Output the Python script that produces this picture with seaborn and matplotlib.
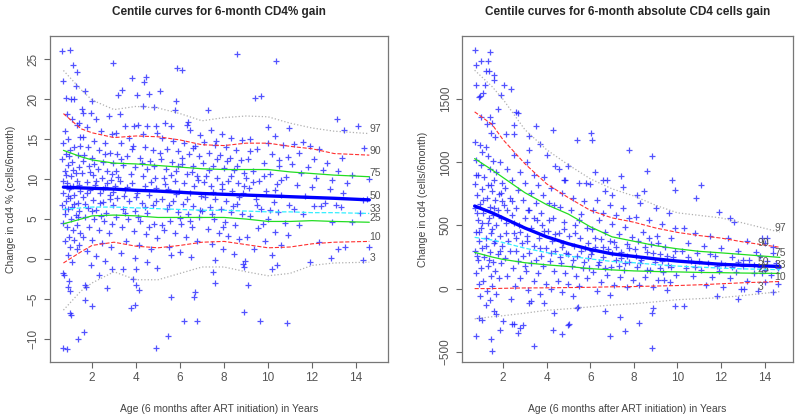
import numpy as np
import matplotlib
matplotlib.use("Agg")
import matplotlib.pyplot as plt
import seaborn as sns

# scatter points: (age in years, 6-month gain)
left_points = [
    (0.65, 26.0), (1.0, 26.2), (1.12, 24.3), (1.3, 23.4), (0.7, 22.3), (1.25, 21.6), (1.2, 20.0), (0.8, 20.1),
    (1.05, 20.0), (0.85, 18.2), (1.4, 17.0), (1.1, 17.5), (0.75, 16.0), (1.3, 16.8), (0.9, 15.0), (1.45, 15.3),
    (0.7, 14.5), (1.2, 14.0), (1.0, 13.6), (0.8, 13.2), (1.35, 13.0), (0.65, 12.5), (1.1, 12.2), (0.9, 11.8),
    (1.4, 11.5), (0.75, 11.0), (1.25, 10.8), (1.05, 10.4), (0.7, 9.8), (1.3, 9.8), (0.85, 9.5), (1.15, 9.2),
    (0.95, 8.8), (1.45, 8.5), (0.7, 8.2), (1.2, 8.0), (1.0, 7.6), (0.8, 7.2), (1.35, 7.0), (0.65, 6.8),
    (1.1, 6.5), (0.9, 6.2), (1.4, 6.0), (0.75, 5.6), (1.25, 5.5), (1.05, 5.0), (0.7, 4.5), (1.3, 4.3),
    (0.85, 4.0), (1.15, 3.6), (1.45, 3.2), (0.95, 2.8), (1.2, 2.4), (0.75, 2.2), (1.4, 1.8), (1.0, 1.5),
    (1.3, 1.2), (0.9, 0.5), (1.1, -0.4), (0.7, -1.7), (0.72, -2.0), (0.95, -2.8), (0.92, -3.5), (1.0, -4.0),
    (1.0, -6.7), (1.05, -7.0), (0.68, -11.1), (0.88, -11.3), (1.35, -10.0),
    (0.8, 10.5), (1.15, 11.2), (1.4, 9.3), (0.9, 7.9), (1.2, 6.9), (0.75, 6.2), (1.35, 5.2), (1.0, 9.0),
    (0.95, 12.9), (1.45, 14.2),
    (1.55, 18.8), (1.7, 21.0), (1.98, 19.8), (1.6, 18.3), (1.95, 18.3), (2.2, 17.5), (2.75, 17.9), (1.75, 16.5),
    (2.4, 16.0), (2.9, 15.6), (1.6, 15.3), (2.1, 14.8), (2.6, 14.5), (1.8, 14.0), (2.3, 13.6), (2.8, 13.3),
    (1.65, 13.0), (2.0, 12.6), (2.5, 12.2), (2.95, 12.0), (1.85, 11.6), (2.25, 11.3), (2.7, 11.0), (1.55, 10.8),
    (2.05, 10.5), (2.45, 10.2), (2.85, 9.9), (1.75, 9.6), (2.15, 9.3), (2.6, 9.0), (1.9, 8.6), (2.35, 8.3),
    (2.8, 8.0), (1.6, 7.7), (2.05, 7.4), (2.5, 7.1), (2.95, 6.8), (1.8, 6.4), (2.2, 6.1), (2.65, 5.8),
    (1.7, 5.3), (2.1, 5.0), (2.55, 4.7), (2.9, 4.4), (1.85, 4.0), (2.3, 3.6), (2.75, 3.2), (1.6, 2.8),
    (2.0, 2.4), (2.45, 2.0), (2.85, 1.5), (1.75, 1.0), (2.2, 0.4), (2.6, -0.2), (1.95, -0.8), (2.3, -2.0),
    (2.7, -3.6), (1.7, -3.3), (1.72, -3.5), (1.98, -5.9), (1.65, -9.1), (1.7, -5.1), (2.9, -1.3),
    (1.6, 12.3), (1.9, 10.9), (2.2, 9.8), (2.5, 8.7), (2.8, 7.5), (1.7, 6.9), (2.0, 6.0), (2.4, 5.4),
    (2.7, 9.5), (2.9, 10.6), (2.1, 11.9), (2.6, 13.2), (1.75, 8.2), (2.35, 7.0), (2.95, 8.4),
    (2.94, 24.5), (3.8, 22.7), (4.45, 22.8), (4.38, 22.1), (3.35, 21.2), (4.6, 20.6), (4.05, 20.5), (5.1, 21.0),
    (3.2, 20.5), (4.3, 19.1), (4.8, 19.0), (3.25, 18.1), (3.5, 16.7), (3.9, 16.7), (4.1, 16.8), (4.5, 16.6),
    (4.9, 16.7), (3.1, 15.8), (3.7, 15.2), (4.3, 15.6), (4.95, 15.8), (3.3, 14.5), (3.85, 14.2), (4.4, 14.0),
    (4.75, 13.7), (3.15, 13.2), (3.6, 12.9), (4.2, 12.6), (4.65, 12.3), (3.4, 11.8), (3.95, 11.5), (4.5, 11.3),
    (3.1, 11.0), (3.75, 10.7), (4.3, 10.4), (4.85, 10.1), (3.25, 9.8), (3.8, 9.5), (4.4, 9.2), (4.9, 8.9),
    (3.5, 8.6), (4.05, 8.3), (4.6, 8.0), (3.15, 7.6), (3.7, 7.3), (4.25, 7.0), (4.75, 6.7), (3.4, 6.3),
    (3.95, 6.0), (4.5, 5.7), (3.1, 5.3), (3.65, 5.0), (4.2, 4.7), (4.8, 4.4), (3.35, 4.0), (3.9, 3.5),
    (4.45, 3.1), (4.95, 2.6), (3.55, 2.2), (4.15, 1.7), (4.7, 1.2), (3.3, 0.7), (3.95, 0.1), (4.5, -0.4),
    (3.4, -1.2), (4.0, -1.2), (3.85, -2.5), (4.0, -3.3), (4.15, -3.9), (3.78, -6.1), (3.95, -5.7), (4.95, -1.1),
    (4.9, -11.2),
    (3.2, 10.3), (3.6, 9.0), (4.0, 7.8), (4.4, 6.5), (4.8, 11.7), (3.3, 12.5), (3.8, 13.8), (4.25, 12.0),
    (4.7, 9.7), (3.5, 5.8), (4.1, 5.3), (4.6, 4.0), (3.45, 7.9), (4.9, 7.3), (3.05, 9.2),
    (5.85, 23.9), (6.08, 23.6), (5.82, 19.8), (5.77, 18.7), (6.38, 17.2), (6.3, 16.8), (6.45, 16.2), (5.3, 17.0),
    (5.6, 16.6), (6.9, 15.5), (5.2, 15.1), (5.7, 14.8), (6.2, 14.5), (6.7, 14.2), (5.4, 13.8), (5.9, 13.5),
    (6.4, 13.2), (6.85, 12.9), (5.15, 12.5), (5.65, 12.2), (6.1, 11.9), (6.6, 11.6), (5.35, 11.3), (5.8, 11.0),
    (6.3, 10.7), (6.75, 10.4), (5.25, 10.1), (5.75, 9.8), (6.2, 9.5), (6.65, 9.2), (5.45, 8.8), (5.95, 8.5),
    (6.45, 8.2), (6.95, 7.9), (5.2, 7.5), (5.7, 7.2), (6.15, 6.9), (6.6, 6.6), (5.4, 6.2), (5.9, 5.9),
    (6.35, 5.6), (6.85, 5.3), (5.55, 4.8), (6.05, 4.4), (6.55, 4.0), (5.25, 3.6), (5.75, 3.2), (6.25, 2.8),
    (6.75, 2.2), (5.5, 1.5), (6.0, 0.9), (6.5, 0.3), (5.6, 0.5), (5.45, -9.6), (6.2, -7.8), (6.75, -7.8),
    (5.58, -4.75), (6.7, -4.1), (6.65, -4.7),
    (5.3, 9.4), (5.8, 8.1), (6.3, 7.5), (6.8, 9.9), (5.6, 10.5), (6.1, 12.6), (6.6, 13.9), (5.1, 13.3),
    (5.5, 6.8), (6.0, 5.1), (6.45, 4.7), (6.9, 6.1), (5.2, 4.2), (5.9, 11.6), (6.55, 10.9),
    (8.6, 25.6), (7.26, 18.7), (7.4, 16.2), (7.9, 15.7), (8.3, 15.2), (8.8, 14.9), (7.1, 14.6), (7.6, 14.3),
    (8.1, 14.0), (8.55, 13.7), (7.3, 13.3), (7.8, 13.0), (8.25, 12.7), (8.75, 12.4), (7.05, 12.0), (7.5, 11.7),
    (8.0, 11.4), (8.45, 11.1), (8.9, 10.8), (7.2, 10.4), (7.7, 10.1), (8.2, 9.8), (8.65, 9.5), (7.4, 9.1),
    (7.9, 8.8), (8.35, 8.5), (8.85, 8.2), (7.15, 7.8), (7.6, 7.5), (8.1, 7.2), (8.6, 6.9), (7.35, 6.5),
    (7.85, 6.2), (8.3, 5.9), (8.8, 5.6), (7.55, 5.0), (8.05, 4.6), (8.5, 4.2), (7.25, 3.7), (7.75, 3.3),
    (8.2, 2.9), (8.7, 2.5), (7.45, 1.9), (7.95, 1.2), (8.45, 0.6), (7.6, -0.1), (8.85, -0.6), (8.9, -1.0),
    (7.52, -1.6), (7.6, -3.0), (8.9, -6.6), (8.95, -0.2),
    (7.1, 9.6), (7.5, 8.4), (7.9, 9.4), (8.3, 10.4), (8.7, 7.7), (7.3, 11.2), (7.7, 12.5), (8.15, 12.3),
    (8.6, 11.6), (7.0, 6.0), (7.45, 5.6), (7.95, 4.0), (8.4, 6.6), (8.9, 9.1), (7.65, 14.8),
    (10.36, 24.8), (9.4, 20.2), (9.7, 20.4), (10.0, 16.5), (10.3, 15.4), (9.2, 15.0), (10.0, 14.5), (10.7, 14.3),
    (9.5, 13.8), (10.2, 13.2), (10.9, 12.8), (9.1, 12.5), (9.8, 12.0), (10.5, 11.6), (9.3, 11.0), (10.1, 10.6),
    (10.8, 10.3), (9.6, 9.8), (10.4, 9.4), (9.15, 8.9), (9.9, 8.5), (10.6, 8.0), (9.45, 7.5), (10.25, 7.1),
    (10.95, 6.8), (9.7, 6.3), (10.45, 5.9), (9.2, 5.4), (10.0, 5.0), (10.75, 4.5), (9.55, 3.9), (10.3, 3.4),
    (9.05, 2.7), (9.85, 2.2), (10.6, 1.8), (9.35, 1.2), (10.2, 0.5), (9.1, -3.3), (9.65, -7.8), (10.4, -0.7),
    (10.2, -1.3), (10.85, -8.0),
    (9.3, 9.6), (9.8, 10.4), (10.3, 8.6), (9.5, 6.8), (10.1, 6.1), (9.0, 10.1), (10.6, 9.9), (9.75, 4.4),
    (10.5, 12.4), (9.2, 13.5),
    (10.97, 16.4), (13.15, 17.5), (14.1, 16.7), (13.47, 16.1), (14.36, 13.9), (13.35, 12.7), (11.2, 14.4), (11.6, 14.6),
    (11.9, 14.2), (12.3, 13.8), (11.4, 13.3), (12.1, 12.5), (12.7, 12.0), (11.1, 11.9), (11.8, 11.5), (12.5, 11.2),
    (13.2, 11.0), (13.8, 10.5), (14.6, 10.0), (11.5, 10.8), (12.2, 10.1), (12.9, 9.9), (13.6, 9.5), (11.3, 9.3),
    (12.0, 9.0), (12.8, 8.7), (13.4, 8.3), (14.5, 7.5), (14.3, 7.4), (11.7, 7.9), (12.6, 7.0), (13.1, 6.8),
    (11.2, 6.3), (12.1, 6.6), (12.4, 6.6), (13.3, 6.5), (14.2, 5.8), (11.6, 5.6), (12.9, 4.6), (13.8, 4.6),
    (11.4, 4.3), (12.3, 2.1), (13.2, 1.3), (13.5, 1.5), (14.6, 1.5), (11.9, -0.4), (12.85, 0.1), (14.3, -0.1),
    (10.9, 3.0),
]

right_points = [
    (0.72, 1892), (1.4, 1871), (0.76, 1773), (1.0, 1805), (1.3, 1805), (1.2, 1725), (1.38, 1725), (1.58, 1693),
    (1.6, 1653), (0.76, 1613), (1.17, 1613), (1.1, 1550), (0.9, 1520), (0.95, 1525), (1.9, 1535), (1.75, 1419),
    (1.0, 1360), (1.4, 1360), (1.25, 1300), (1.5, 1310), (0.7, 1160), (0.95, 1140), (1.2, 1120), (1.45, 1230),
    (1.65, 1200), (1.05, 1080), (1.3, 1050), (0.75, 1020), (1.55, 1010), (1.85, 1000), (1.0, 980), (1.4, 950),
    (1.7, 920), (0.85, 900), (1.15, 880), (1.6, 860), (1.95, 840), (0.7, 830), (1.3, 820), (1.05, 790),
    (1.5, 770), (1.8, 750), (0.8, 740), (1.25, 720), (1.65, 700), (1.95, 690), (0.95, 670), (1.4, 650),
    (0.7, 640), (1.75, 620), (1.1, 600), (1.55, 580), (1.9, 560), (0.85, 540), (1.3, 520), (1.7, 500),
    (1.0, 480), (0.75, 450), (1.45, 440), (1.85, 420), (1.2, 400), (0.9, 380), (1.6, 360), (1.95, 340),
    (1.05, 320), (0.7, 300), (1.4, 290), (1.75, 270), (1.15, 250), (0.85, 230), (1.55, 210), (1.9, 200),
    (1.3, 180), (1.0, 160), (1.65, 140), (0.75, 120), (1.45, 100), (1.8, 80), (1.1, 60), (0.9, 40),
    (1.5, 20), (1.25, -20), (1.7, -40), (0.95, -60), (1.4, -90), (1.2, -130), (1.6, -180), (0.76, -375),
    (1.45, -401), (1.5, -492), (0.9, -232), (1.05, -248), (1.7, -200), (1.85, -327),
    (0.8, 600), (1.1, 700), (1.35, 560), (0.9, 450), (1.2, 340), (1.5, 470), (1.65, 380), (0.8, 260),
    (1.35, 230), (1.85, 300), (1.05, 520), (1.6, 640), (0.75, 900), (1.45, 820), (1.9, 760),
    (2.05, 1613), (2.35, 1580), (2.6, 1400), (2.7, 1390), (2.5, 1293), (3.5, 1290), (2.13, 1228), (2.5, 1228),
    (3.2, 1210), (3.2, 1095), (3.7, 1143), (2.5, 1060), (3.1, 1005), (2.2, 950), (2.8, 920), (3.4, 900),
    (3.9, 880), (2.4, 860), (3.0, 840), (3.6, 820), (2.1, 800), (2.7, 780), (3.3, 760), (3.85, 740),
    (2.3, 720), (2.9, 700), (3.5, 680), (2.05, 660), (2.6, 640), (3.15, 620), (3.75, 600), (2.4, 580),
    (3.0, 560), (3.55, 540), (2.15, 520), (2.75, 500), (3.3, 480), (3.9, 460), (2.5, 440), (3.1, 420),
    (3.65, 400), (2.25, 380), (2.85, 360), (3.4, 340), (3.95, 320), (2.6, 300), (3.2, 280), (3.75, 260),
    (2.1, 240), (2.7, 220), (3.3, 200), (3.85, 180), (2.45, 160), (3.05, 140), (3.6, 120), (2.2, 100),
    (2.8, 80), (3.4, 60), (3.95, 40), (2.55, 20), (3.15, -10), (3.7, -40), (2.35, -80), (3.2, -115),
    (3.3, -100), (3.9, -115), (2.0, -260), (2.4, -280), (2.5, -280), (2.68, -348), (2.8, -310), (2.9, -290),
    (3.4, -455),
    (2.2, 620), (2.5, 520), (2.8, 450), (3.1, 380), (3.4, 560), (3.7, 320), (2.3, 300), (2.6, 400),
    (2.9, 260), (3.2, 620), (3.5, 230), (3.8, 500), (2.15, 440), (2.4, 690), (3.0, 180),
    (4.3, 1260), (5.4, 1180), (6.05, 1233), (6.07, 1180), (4.03, 1060), (4.4, 970), (4.55, 950), (4.97, 975),
    (4.8, 857), (4.85, 857), (5.5, 840), (5.8, 835), (6.0, 830), (4.2, 800), (4.7, 760), (5.2, 720),
    (5.7, 690), (4.1, 680), (4.6, 650), (5.1, 620), (5.6, 590), (4.3, 560), (4.8, 530), (5.3, 500),
    (5.85, 480), (4.05, 460), (4.55, 440), (5.05, 420), (5.55, 400), (4.25, 380), (4.75, 360), (5.25, 340),
    (5.75, 320), (4.4, 300), (4.9, 280), (5.4, 260), (5.9, 240), (4.15, 220), (4.65, 200), (5.15, 180),
    (5.65, 160), (4.35, 140), (4.85, 120), (5.35, 100), (5.85, 80), (4.5, 60), (5.0, 40), (5.5, 20),
    (4.2, 0), (4.7, -30), (5.2, -60), (4.3, -332), (4.7, -358), (5.0, -290), (5.05, -280), (4.36, -195),
    (5.4, -150), (5.45, -145),
    (4.1, 540), (4.4, 430), (4.7, 330), (5.0, 270), (5.3, 440), (5.6, 300), (5.9, 360), (4.2, 280),
    (4.6, 250), (5.2, 230), (5.7, 210), (4.8, 470), (5.5, 540), (4.35, 660), (5.95, 160),
    (7.77, 1100), (6.2, 920), (7.43, 890), (7.5, 806), (6.57, 857), (6.78, 857), (6.7, 775), (7.0, 740),
    (6.3, 700), (6.9, 660), (7.5, 640), (6.15, 620), (6.6, 600), (7.2, 580), (7.8, 560), (6.4, 540),
    (7.0, 510), (7.6, 490), (6.1, 470), (6.7, 450), (7.3, 430), (7.9, 410), (6.5, 390), (7.1, 370),
    (7.7, 350), (6.2, 330), (6.8, 310), (7.4, 290), (6.05, 270), (6.6, 250), (7.2, 230), (7.8, 210),
    (6.35, 190), (6.95, 170), (7.55, 150), (6.15, 130), (6.75, 110), (7.35, 90), (7.95, 70), (6.5, 50),
    (7.1, 30), (7.7, 10), (6.3, -20), (6.9, -50), (6.93, -372), (7.35, -225), (7.6, -340), (6.7, -180),
    (6.2, 400), (6.6, 330), (7.0, 280), (7.4, 240), (7.8, 320), (6.4, 210), (6.9, 380), (7.3, 180),
    (7.7, 260), (6.1, 300), (6.7, 160), (7.2, 330), (7.6, 200),
    (8.84, 1053), (8.6, 935), (9.76, 857), (9.9, 780), (8.15, 738), (8.45, 770), (8.3, 680), (9.0, 640),
    (9.6, 600), (8.1, 570), (8.7, 540), (9.3, 510), (9.9, 480), (8.4, 450), (9.05, 420), (9.7, 400),
    (8.2, 380), (8.8, 350), (9.45, 330), (8.05, 310), (8.6, 290), (9.2, 270), (9.8, 250), (8.35, 230),
    (8.95, 210), (9.55, 190), (8.15, 170), (8.75, 150), (9.35, 130), (9.95, 110), (8.5, 90), (9.1, 70),
    (9.65, 50), (8.25, 30), (8.9, 10), (9.5, -10), (8.25, -270), (8.84, -468), (8.84, -190), (8.86, -155),
    (9.9, -141), (9.4, 70),
    (8.1, 260), (8.5, 330), (8.9, 280), (9.3, 220), (9.7, 170), (8.3, 200), (8.7, 400), (9.1, 360),
    (9.5, 260), (9.9, 300), (8.6, 150), (9.2, 160),
    (11.09, 819), (10.87, 715), (10.3, 480), (10.8, 440), (11.5, 420), (12.3, 400), (13.2, 380), (14.0, 360),
    (10.5, 360), (11.2, 340), (12.0, 320), (12.8, 300), (13.6, 290), (14.4, 280), (10.2, 300), (10.9, 280),
    (11.7, 260), (12.5, 250), (13.3, 230), (14.1, 220), (10.6, 220), (11.4, 200), (12.2, 190), (13.0, 180),
    (13.8, 170), (14.6, 160), (10.4, 160), (11.1, 150), (11.9, 140), (12.7, 130), (13.5, 120), (14.3, 110),
    (10.7, 100), (11.6, 90), (12.4, 80), (13.2, 60), (14.0, 50), (14.6, 40), (11.3, 30), (12.1, 10),
    (12.9, 0), (13.7, -20), (11.8, -61), (12.8, -82), (13.05, -2), (10.3, -141), (14.4, -30), (13.9, 120),
    (12.6, 530), (11.9, 610), (12.4, 560), (13.9, 400), (14.1, 400),
    (10.5, 250), (11.0, 220), (11.5, 270), (12.0, 200), (12.5, 170), (13.0, 230), (13.5, 190), (14.0, 150),
    (14.5, 200), (10.8, 170), (11.8, 180), (12.8, 210), (13.8, 260), (14.4, 330),
]

centile_names = ["97", "90", "75", "50", "33", "25", "10", "3"]

left_curve_age = [0.7, 1.5, 2.0, 3.0, 4.0, 5.0, 6.0, 7.0, 8.0, 9.0, 10.0, 11.0, 12.0, 13.0, 14.6]
left_centiles = {
    "97": [23.6, 21.2, 19.9, 18.7, 19.1, 18.9, 18.2, 17.3, 17.7, 17.9, 17.8, 17.0, 16.4, 16.0, 15.7],
    "90": [18.2, 16.3, 15.8, 15.2, 15.4, 15.3, 14.9, 14.3, 14.2, 14.5, 14.5, 14.1, 13.8, 13.2, 13.0],
    "75": [13.6, 12.8, 12.4, 12.0, 11.9, 11.7, 11.5, 11.3, 11.2, 11.2, 11.2, 10.9, 10.7, 10.5, 10.3],
    "50": [9.0, 8.9, 8.85, 8.75, 8.6, 8.5, 8.35, 8.2, 8.1, 8.0, 7.9, 7.8, 7.7, 7.6, 7.4],
    "33": [6.2, 6.4, 6.5, 6.5, 6.4, 6.3, 6.2, 6.1, 6.1, 6.0, 5.9, 5.9, 5.8, 5.8, 5.7],
    "25": [4.4, 5.0, 5.4, 5.5, 5.4, 5.2, 5.2, 5.2, 5.2, 5.0, 4.7, 4.7, 4.8, 4.7, 4.6],
    "10": [-0.5, 0.9, 1.7, 2.1, 1.6, 1.4, 1.7, 2.1, 2.2, 1.8, 1.4, 1.5, 1.9, 2.1, 2.2],
    "3": [-6.4, -4.0, -3.0, -1.6, -2.6, -2.6, -1.8, -1.0, -1.0, -1.6, -2.1, -1.8, -0.8, -0.5, -0.4],
}

right_curve_age = [0.7, 1.5, 2.0, 3.0, 4.0, 5.0, 6.0, 7.0, 8.0, 9.0, 10.0, 11.0, 12.0, 13.0, 14.7]
right_centiles = {
    "97": [1730, 1600, 1500, 1260, 1100, 980, 870, 790, 734, 660, 600, 580, 560, 520, 447],
    "90": [1400, 1300, 1180, 990, 830, 720, 620, 560, 526, 480, 445, 420, 400, 370, 327],
    "75": [1030, 940, 880, 760, 665, 590, 490, 410, 375, 340, 315, 295, 283, 270, 247],
    "50": [654, 600, 560, 480, 410, 355, 310, 275, 255, 235, 218, 205, 192, 185, 175],
    "33": [406, 385, 365, 320, 285, 258, 235, 215, 205, 190, 178, 170, 162, 156, 150],
    "25": [287, 250, 231, 205, 188, 175, 158, 148, 140, 135, 132, 128, 126, 123, 120],
    "10": [0, 0, 2, 5, 6, 8, 10, 14, 16, 20, 24, 30, 38, 46, 56],
    "3": [-240, -223, -215, -195, -172, -160, -145, -130, -120, -105, -88, -80, -72, -55, -24],
}

# R-like line styles for each centile
curve_style = {
    "97": dict(color="#b0b0b0", lw=0.9, ls=":"),
    "90": dict(color="#ff3030", lw=0.8, ls="--"),
    "75": dict(color="#22dd22", lw=0.9, ls="-"),
    "50": dict(color="#0000ff", lw=2.4, ls="-"),
    "33": dict(color="#33eeff", lw=0.9, ls="--"),
    "25": dict(color="#22dd22", lw=0.9, ls="-"),
    "10": dict(color="#ff3030", lw=0.8, ls="--"),
    "3": dict(color="#b0b0b0", lw=0.9, ls=":"),
}

sns.set_theme(style="ticks")
plt.rcParams["font.family"] = ["Liberation Sans", "DejaVu Sans"]

fig = plt.figure(figsize=(8, 4.2), dpi=100)
ax_l = fig.add_axes([0.0625, 0.138, 0.4225, 0.776])
ax_r = fig.add_axes([0.5775, 0.138, 0.41375, 0.776])


def draw_panel(ax, points, curve_age, centiles, title, ylabel, label_dx):
    pts = np.array(points)
    sns.scatterplot(x=pts[:, 0], y=pts[:, 1], ax=ax, marker="+", color="#1a1aff",
                    s=22, linewidth=0.9, alpha=0.75, zorder=2)
    for i, name in enumerate(centile_names):
        st = curve_style[name]
        sns.lineplot(x=curve_age, y=centiles[name], ax=ax, sort=False, estimator=None,
                     color=st["color"], linewidth=st["lw"], linestyle=st["ls"], zorder=3)
        ax.annotate(name, (curve_age[-1], centiles[name][-1]),
                    xytext=(label_dx[i % 2], 3), textcoords="offset points",
                    ha="left", va="center", fontsize=7.5, color="#555555", zorder=4)
    ax.set_title(title, fontsize=8.5, fontweight="bold", pad=15)
    ax.set_xlabel("Age (6 months after ART initiation) in Years", fontsize=7.5, color="#444444", labelpad=14)
    ax.set_ylabel(ylabel, fontsize=7.5, color="#444444", labelpad=8)
    ax.set_xticks(range(2, 15, 2))
    ax.tick_params(axis="both", labelsize=8.5, labelcolor="#555555", color="#666666",
                   length=4, width=0.8, direction="out")
    ax.tick_params(axis="y", labelrotation=90)
    for lab in ax.get_yticklabels():
        lab.set_va("center")
    for sp in ax.spines.values():
        sp.set_color("#777777")
        sp.set_linewidth(0.9)


draw_panel(ax_l, left_points, left_curve_age, left_centiles,
           "Centile curves for 6-month CD4% gain", "Change in cd4 % (cells/6month)", (0, 0))
ax_l.set_xlim(0.09, 15.45)
ax_l.set_ylim(-12.9, 27.9)
ax_l.set_yticks([-10, -5, 0, 5, 10, 15, 20, 25])

draw_panel(ax_r, right_points, right_curve_age, right_centiles,
           "Centile curves for 6-month absolute CD4 cells gain", "Change in cd4 (cells/6month)", (-4, -16))
ax_r.set_xlim(0.12, 15.3)
ax_r.set_ylim(-582, 2000)
ax_r.set_yticks([-500, 0, 500, 1000, 1500])

fig.savefig("out.png", dpi=100, facecolor="white")
